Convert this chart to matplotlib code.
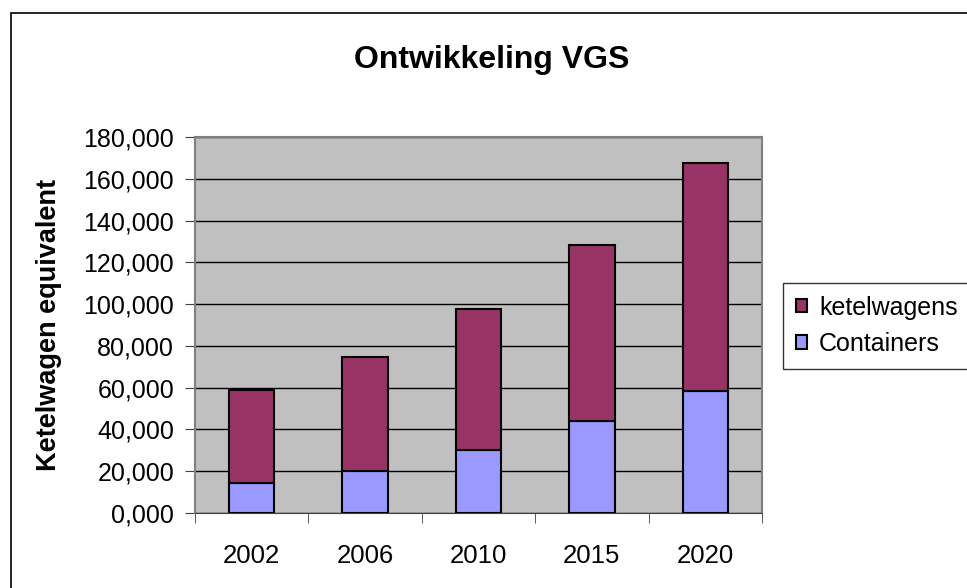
import numpy as np
import matplotlib.pyplot as plt
from matplotlib.patches import Rectangle
from matplotlib.ticker import FuncFormatter

plt.rcParams['font.family'] = ['Liberation Sans', 'DejaVu Sans']

# data (in thousands of ketelwagen equivalents)
years = ['2002', '2006', '2010', '2015', '2020']
containers = [14.2, 20.1, 30.3, 44.0, 58.3]
ketelwagens = [44.8, 54.6, 67.2, 84.3, 109.1]

fig = plt.figure(figsize=(9.67, 5.88), dpi=100)
W, H = 967, 588
ax = fig.add_axes([195 / W, 1 - 513 / H, (762 - 195) / W, (513 - 137) / H])

# outer chart border (only left/top visible in the reference)
fig.patches.append(Rectangle((11 / W, -0.1), 1.2, 1 - 13 / H + 0.1,
                             transform=fig.transFigure, fill=False,
                             edgecolor='black', linewidth=1.2))

x = np.arange(len(years))
ax.set_facecolor('#C0C0C0')
ax.bar(x, containers, width=0.4, color='#9999FF', edgecolor='black',
       linewidth=1.5, label='Containers', zorder=3)
ax.bar(x, ketelwagens, width=0.4, bottom=containers, color='#993366',
       edgecolor='black', linewidth=1.5, label='ketelwagens', zorder=3)

ax.set_xlim(-0.5, len(years) - 0.5)
ax.set_ylim(0, 180)
ax.set_yticks(np.arange(0, 181, 20))
ax.yaxis.set_major_formatter(FuncFormatter(lambda v, p: f"{v:.3f}".replace('.', ',')))
ax.yaxis.grid(True, color='#000000', linewidth=1, zorder=1)
ax.set_axisbelow(True)

ax.set_xticks(x)
ax.set_xticklabels(years)
ax.set_xticks(np.arange(-0.5, len(years), 1), minor=True)
ax.tick_params(axis='x', which='major', length=0, labelsize=18.5, pad=22)
ax.tick_params(axis='x', which='minor', length=7, color='#404040', direction='out')
ax.tick_params(axis='y', length=7, color='#404040', labelsize=18, pad=8)

for s in ['left', 'right', 'top']:
    ax.spines[s].set_color('#808080')
    ax.spines[s].set_linewidth(1.5)
ax.spines['bottom'].set_color('#404040')

ax.set_ylabel('Ketelwagen equivalent', fontsize=19.5, fontweight='bold')
ax.yaxis.set_label_coords((62 - 195) / 567, 0.5)
fig.text(492 / W, 1 - 60 / H, 'Ontwikkeling VGS', ha='center', va='center',
         fontsize=23, fontweight='bold')

handles, labels = ax.get_legend_handles_labels()
leg = fig.legend(handles[::-1], labels[::-1], loc='upper left',
                 bbox_to_anchor=(783 / W, 1 - 283 / H), fontsize=18,
                 frameon=True, fancybox=False, edgecolor='black',
                 borderaxespad=0, handlelength=0.45, handleheight=0.45,
                 handletextpad=0.5, labelspacing=0.5, borderpad=0.5)
leg.get_frame().set_linewidth(1)

fig.savefig('out.png', dpi=100)
